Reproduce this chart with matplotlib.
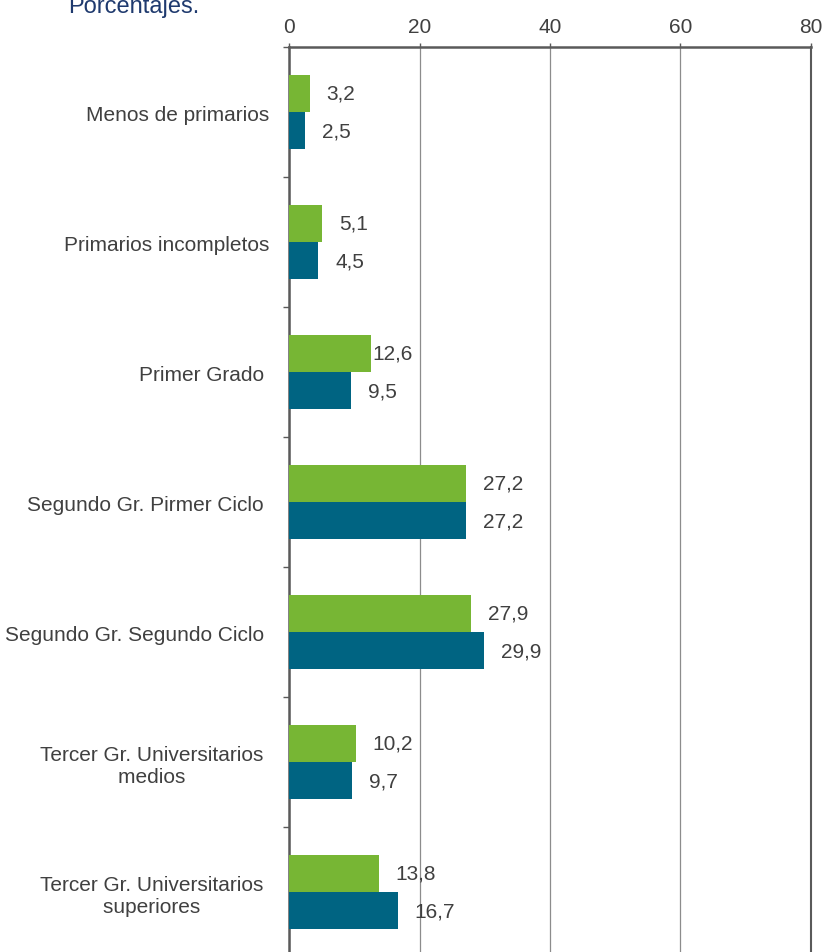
import matplotlib
matplotlib.use("Agg")
import matplotlib.pyplot as plt
import numpy as np

plt.rcParams['font.family'] = ['Liberation Sans', 'DejaVu Sans']

categories = [
    "Menos de primarios",
    "Primarios incompletos",
    "Primer Grado ",
    "Segundo Gr. Pirmer Ciclo ",
    "Segundo Gr. Segundo Ciclo ",
    "Tercer Gr. Universitarios \nmedios ",
    "Tercer Gr. Universitarios \nsuperiores ",
]
serie_verde = [3.2, 5.1, 12.6, 27.2, 27.9, 10.2, 13.8]
serie_azul = [2.5, 4.5, 9.5, 27.2, 29.9, 9.7, 16.7]
x_ticks = [0, 20, 40, 60, 80]

GREEN = "#77B634"
BLUE = "#006482"
TEXT = "#404040"
AXIS = "#5a5a5a"
FS = 15

# label gap (points) after the bar end; one green label sits flush with its bar
gap_default = 12
gap_green_override = {2: 0.5}

fig = plt.figure(figsize=(8.25, 9.53), dpi=100)
ax = fig.add_axes([289 / 825, 1 - 958 / 953, (811 - 289) / 825, 910 / 953])

y = np.arange(len(categories))
h = 0.285
ax.barh(y - h / 2, serie_verde, height=h, color=GREEN, zorder=3)
ax.barh(y + h / 2, serie_azul, height=h, color=BLUE, zorder=3)

def fmt(v):
    return f"{v:.1f}".replace(".", ",")

for i, (yi, v) in enumerate(zip(y, serie_verde)):
    ax.annotate(fmt(v), (v, yi - h / 2), xytext=(gap_green_override.get(i, gap_default), 0),
                textcoords="offset points", va="center", ha="left",
                fontsize=FS, color=TEXT, zorder=4)
for yi, v in zip(y, serie_azul):
    ax.annotate(fmt(v), (v, yi + h / 2), xytext=(gap_default, 0), textcoords="offset points",
                va="center", ha="left", fontsize=FS, color=TEXT, zorder=4)

ax.set_xlim(0, 80)
ax.set_ylim(len(categories) - 0.5, -0.5)

ax.xaxis.tick_top()
ax.set_xticks(x_ticks)
ax.set_xticklabels([str(t) for t in x_ticks], fontsize=FS, color=TEXT)
ax.tick_params(axis="x", direction="out", length=3, width=1, color=AXIS, pad=5)
ax.grid(axis="x", color="#8c8c8c", linewidth=0.9, zorder=0)
ax.grid(axis="y", visible=False)

ax.set_yticks(y)
ax.set_yticklabels(categories, fontsize=FS, color=TEXT, multialignment="center")
ax.tick_params(axis="y", which="major", length=0, pad=14)
ax.set_yticks(np.arange(len(categories) + 1) - 0.5, minor=True)
ax.tick_params(axis="y", which="minor", direction="out", length=4, width=1, color=AXIS)

for s in ["left", "top", "right"]:
    ax.spines[s].set_color(AXIS)
    ax.spines[s].set_linewidth(1.8)
ax.spines["right"].set_linewidth(1.5)
ax.spines["bottom"].set_visible(False)

fig.text(68 / 825, 1 - 13 / 953, "Porcentajes.", fontsize=17, color="#1F3A6E",
         ha="left", va="baseline")

fig.savefig("out.png", dpi=100)
